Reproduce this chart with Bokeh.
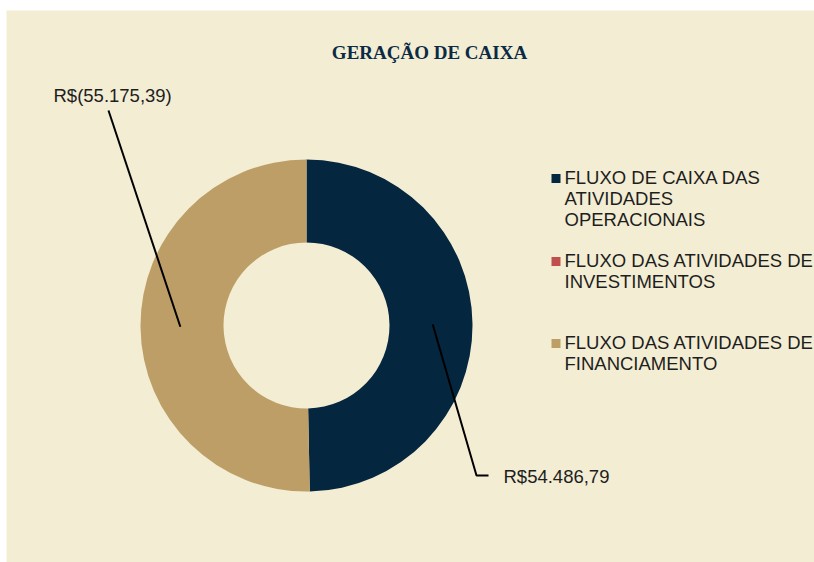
import math
from bokeh.plotting import figure
from bokeh.models import Range1d
from bokeh.embed import file_html
from bokeh.resources import INLINE
from bokeh.core.properties import value

# ---------------- data ----------------
title = "GERAÇÃO DE CAIXA"
categories = [
    "FLUXO DE CAIXA DAS\nATIVIDADES\nOPERACIONAIS",
    "FLUXO DAS ATIVIDADES DE\nINVESTIMENTOS",
    "FLUXO DAS ATIVIDADES DE\nFINANCIAMENTO",
]
values = [54486.79, 0.0, -55175.39]
colors = ["#05263F", "#C0504D", "#BD9E67"]

# ---------------- styling / layout ----------------
BG = "#F3EDD3"
TXT = "#1E1E1E"
LEFT, TOP = 6, 10
W, H = 814, 562
PW, PH = W - LEFT, H - TOP
TSHIFT = 7  # text baseline correction (px)


def px(x):  # page x -> data x
    return x - LEFT


def py(y):  # page y -> data y
    return H - y


def brl(v):
    s = f"{abs(v):,.2f}".replace(",", "X").replace(".", ",").replace("X", ".")
    return f"R$({s})" if v < 0 else f"R${s}"


p = figure(width=W, height=H, output_backend="svg", toolbar_location=None,
           x_range=Range1d(0, PW), y_range=Range1d(0, PH),
           min_border_left=LEFT, min_border_right=0, min_border_bottom=0,
           min_border_top=TOP)
p.background_fill_color = BG
p.border_fill_color = "white"
p.outline_line_color = None
p.axis.visible = False
p.grid.visible = False

# ---------------- donut ----------------
cx, cy = px(306), py(325)
R_OUT, R_IN = 166, 83
absvals = [abs(v) for v in values]
total = sum(absvals)
fracs = [a / total for a in absvals]

# label layout for visible slices: (elbow, line end, text position)
label_layout = {
    0: dict(pts=[(476, 475), (488, 475)], text=(503, 483)),
    2: dict(pts=[(108, 110)], text=(53, 102)),
}

acc = 0.0
for i, (f, c) in enumerate(zip(fracs, colors)):
    a, b = acc, acc + f
    acc = b
    if f <= 0:
        continue
    p.annular_wedge(x=cx, y=cy, inner_radius=R_IN, outer_radius=R_OUT,
                    start_angle=math.pi / 2 - 2 * math.pi * a,
                    end_angle=math.pi / 2 - 2 * math.pi * b,
                    direction="clock", fill_color=c, line_color=None)
    theta = 2 * math.pi * (a + b) / 2
    r = 0.76 * R_OUT
    ax, ay = cx + r * math.sin(theta), cy + r * math.cos(theta)
    lay = label_layout[i]
    xs = [ax] + [px(q[0]) for q in lay["pts"]]
    ys = [ay] + [py(q[1]) for q in lay["pts"]]
    p.line(xs, ys, line_color="black", line_width=2)
    p.text(x=[px(lay["text"][0])], y=[py(lay["text"][1] - TSHIFT)],
           text=[brl(values[i])],
           text_font=value("Liberation Sans"), text_font_size="18.5px",
           text_color=TXT, text_align="left", text_baseline="alphabetic")

# ---------------- title ----------------
p.text(x=[px(429)], y=[py(59 - TSHIFT)], text=[title],
       text_font=value("Liberation Serif"), text_font_style="bold",
       text_font_size="19px", text_color="#0B2A45",
       text_align="center", text_baseline="alphabetic")

# ---------------- legend ----------------
entry_base = [184, 267, 349]
line_h = 21
for lab, c, yb in zip(categories, colors, entry_base):
    p.rect(x=[px(555.5)], y=[py(yb - 6)], width=9, height=9,
           fill_color=c, line_color=None)
    lines = lab.split("\n")
    p.text(x=[px(564)] * len(lines),
           y=[py(yb - TSHIFT + k * line_h) for k in range(len(lines))],
           text=lines, text_font=value("Liberation Sans"),
           text_font_size="18.5px", text_color=TXT,
           text_align="left", text_baseline="alphabetic")

open("out.html", "w").write(file_html(p, INLINE))
